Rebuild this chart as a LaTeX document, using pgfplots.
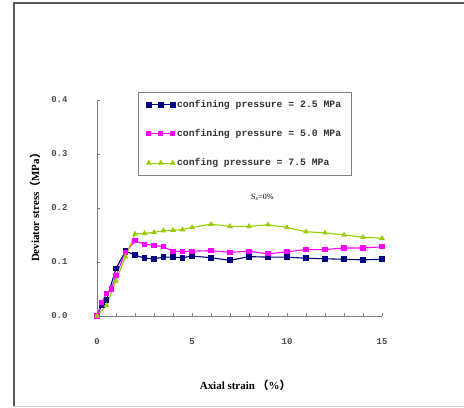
\documentclass[border=0pt]{standalone}
\usepackage{fontspec}
\setmainfont{Liberation Serif}
\newfontfamily\mono{Liberation Mono}
\newfontfamily\cjk{Noto Sans CJK SC}
\usepackage{pgfplots}
\pgfplotsset{compat=1.18}
\definecolor{navyblue}{RGB}{0,0,128}
\definecolor{pinkline}{RGB}{255,0,255}
\definecolor{limeline}{RGB}{153,204,0}
\begin{document}
\begin{tikzpicture}
\useasboundingbox (0,0) rectangle (464bp,-408bp);
\draw[gray!70!black, line width=1.2bp] (14bp,-406bp) -- (14bp,-3bp) -- (464bp,-3bp);
\draw[gray!40, line width=0.6bp] (14bp,-406bp) -- (464bp,-406bp);
\begin{axis}[
    at={(97bp,-316bp)}, anchor=origin,
    scale only axis,
    width=285bp, height=216bp,
    xmin=0, xmax=15, ymin=0, ymax=0.4,
    axis x line*=bottom, axis y line*=left,
    axis line style={gray, line width=0.8bp},
    xtick={0,5,10,15}, ytick={0,0.1,0.2,0.3,0.4},
    minor x tick num=4,
    tick align=inside,
    tick style={gray, line width=0.6bp},
    major tick length=3bp, minor tick length=3bp,
    yticklabel style={/pgf/number format/fixed, /pgf/number format/fixed zerofill,
        /pgf/number format/precision=1, xshift=-26bp, font=\mono\bfseries\fontsize{9}{10}\selectfont, text=black!70},
    xticklabel style={yshift=-19bp, font=\mono\bfseries\fontsize{9}{10}\selectfont, text=black!70},
    /pgf/number format/assume math mode=true,
    ylabel={\bfseries Deviator stress{\cjk（}MPa{\cjk）}},
    ylabel style={font=\fontsize{11}{12}\selectfont, at={(axis description cs:-0.2175,0.514)}, anchor=center},
    xlabel={\bfseries Axial strain {\cjk（}\%{\cjk）}},
    xlabel style={font=\fontsize{11}{12}\selectfont, at={(axis description cs:0.52,0)}, anchor=north, yshift=-61bp},
    legend style={at={(0.144,1.037)}, anchor=north west, draw=gray, line width=0.6bp,
        font=\mono\bfseries\fontsize{9.8}{11}\selectfont, row sep=16.5bp, inner xsep=8bp, inner ysep=6bp,
        cells={anchor=west}, text=black!80},
    legend image code/.code={\draw[#1] plot coordinates {(0bp,0bp) (12bp,0bp) (24bp,0bp)};},
    every axis plot/.append style={line width=1.1bp},
]
\addplot[navyblue, mark=square*, mark size=2.4bp, mark options={solid}] coordinates {
(0,0) (0.25,0.02) (0.5,0.03) (1,0.088) (1.5,0.12) (2,0.113) (2.5,0.107) (3,0.106)
(3.5,0.109) (4,0.109) (4.5,0.108) (5,0.111) (6,0.108) (7,0.103) (8,0.11) (9,0.109)
(10,0.109) (11,0.107) (12,0.106) (13,0.105) (14,0.104) (15,0.105)};
\addplot[pinkline, mark=square*, mark size=2bp] coordinates {
(0,0) (0.25,0.025) (0.5,0.042) (0.75,0.05) (1,0.075) (1.5,0.118) (2,0.139) (2.5,0.133)
(3,0.131) (3.5,0.128) (4,0.12) (4.5,0.119) (5,0.12) (6,0.121) (7,0.118) (8,0.12)
(9,0.115) (10,0.119) (11,0.123) (12,0.123) (13,0.126) (14,0.126) (15,0.128)};
\addplot[limeline, mark=triangle*, mark size=2.2bp] coordinates {
(0,0) (0.5,0.02) (1,0.065) (1.5,0.11) (2,0.152) (2.5,0.153) (3,0.155) (3.5,0.158)
(4,0.159) (4.5,0.16) (5,0.164) (6,0.17) (7,0.166) (8,0.166) (9,0.169) (10,0.164)
(11,0.156) (12,0.154) (13,0.15) (14,0.146) (15,0.144)};
\legend{confining pressure = 2.5 MPa, confining pressure = 5.0 MPa, confing pressure = 7.5 MPa}
\node[font=\fontsize{8}{9}\selectfont] at (axis cs:8.7,0.22) {S$_{\mathrm{s}}$=0\%};
\end{axis}
\end{tikzpicture}
\end{document}
